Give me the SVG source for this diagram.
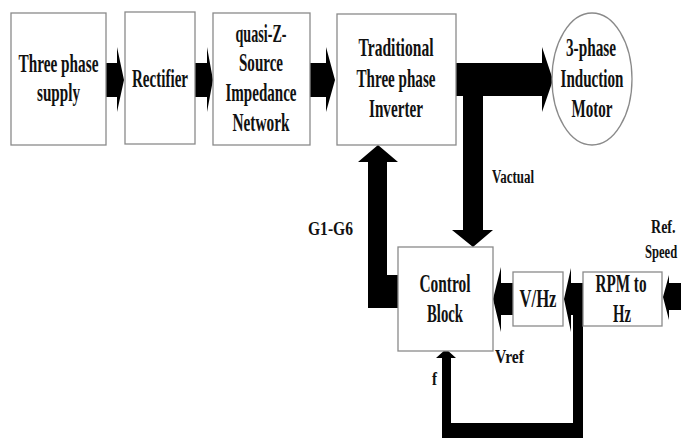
<svg xmlns="http://www.w3.org/2000/svg" width="681" height="438" viewBox="0 0 681 438">
<style>
.box{fill:#fff;stroke:#8a8a8a;stroke-width:1.3}
.t{font-family:"Liberation Serif","Times New Roman",serif;font-weight:bold;font-size:25px;fill:#111;text-anchor:middle}
.l{font-family:"Liberation Serif","Times New Roman",serif;font-weight:bold;font-size:18px;fill:#111}
.a{fill:#000}
</style>
<rect width="681" height="438" fill="#fff"/>
<g id="connectors">
<polygon class="a" points="106,63 117,63 117,47 124,80 117,112 117,97 106,97"/>
<polygon class="a" points="195,63 207,63 207,47 213,80 207,112 207,97 195,97"/>
<polygon class="a" points="310,63 326,63 326,47 335,80 326,112 326,97 310,97"/>
<polygon class="a" points="456,63 542,63 542,47 553,80 542,112 542,96 483,96 483,230 493,230 473,247 452,230 463,230 463,96 456,96"/>
<polygon class="a" points="398,275 387,275 387,162 398,162 378,145 358,162 368,162 368,308 398,308"/>
<polygon class="a" points="513,283 501,283 501,267 493,299 501,332 501,315 513,315"/>
<polygon class="a" points="582,283 571,283 571,268 564,299 571,332 571,315 573,315 573,423 451,423 451,358 456,358 446,349 436,358 442,358 442,438 583,438 583,283"/>
<polygon class="a" points="681,283 669,283 669,275 663,297 669,320 669,310 681,310"/>
</g>
<g id="supply"><rect class="box" x="11" y="13" width="95" height="132"/>
<text class="t" x="58.5" y="72" textLength="80" lengthAdjust="spacingAndGlyphs">Three phase</text>
<text class="t" x="58.5" y="101" textLength="43" lengthAdjust="spacingAndGlyphs">supply</text></g>
<g id="rectifier"><rect class="box" x="125" y="12" width="70" height="132"/>
<text class="t" x="160" y="87" textLength="56" lengthAdjust="spacingAndGlyphs">Rectifier</text></g>
<g id="qzsource"><rect class="box" x="213" y="13" width="97" height="132"/>
<text class="t" x="261" y="42" textLength="51" lengthAdjust="spacingAndGlyphs">quasi-Z-</text>
<text class="t" x="261" y="71" textLength="44" lengthAdjust="spacingAndGlyphs">Source</text>
<text class="t" x="261" y="101" textLength="71" lengthAdjust="spacingAndGlyphs">Impedance</text>
<text class="t" x="261" y="131" textLength="57" lengthAdjust="spacingAndGlyphs">Network</text></g>
<g id="inverter"><rect class="box" x="337" y="14" width="119" height="131"/>
<text class="t" x="396" y="56" textLength="75" lengthAdjust="spacingAndGlyphs">Traditional</text>
<text class="t" x="396" y="87" textLength="79" lengthAdjust="spacingAndGlyphs">Three phase</text>
<text class="t" x="396" y="117" textLength="54" lengthAdjust="spacingAndGlyphs">Inverter</text></g>
<g id="motor"><ellipse class="box" cx="592" cy="79" rx="40" ry="66"/>
<text class="t" x="591" y="56" textLength="50" lengthAdjust="spacingAndGlyphs">3-phase</text>
<text class="t" x="592" y="87" textLength="63" lengthAdjust="spacingAndGlyphs">Induction</text>
<text class="t" x="592" y="117" textLength="41" lengthAdjust="spacingAndGlyphs">Motor</text></g>
<g id="control"><rect class="box" x="398" y="247" width="95" height="104"/>
<text class="t" x="445" y="292" textLength="51" lengthAdjust="spacingAndGlyphs">Control</text>
<text class="t" x="445" y="322" textLength="36" lengthAdjust="spacingAndGlyphs">Block</text></g>
<g id="vhz"><rect class="box" x="513" y="272" width="50" height="54"/>
<text class="t" x="538" y="307" textLength="37" lengthAdjust="spacingAndGlyphs">V/Hz</text></g>
<g id="rpm"><rect class="box" x="583" y="272" width="79" height="54"/>
<text class="t" x="621" y="292" textLength="51" lengthAdjust="spacingAndGlyphs">RPM to</text>
<text class="t" x="622" y="322" textLength="18" lengthAdjust="spacingAndGlyphs">Hz</text></g>
<g id="labels">
<text class="l" x="492" y="183" textLength="42" lengthAdjust="spacingAndGlyphs">Vactual</text>
<text class="l" x="308" y="235" textLength="45" lengthAdjust="spacingAndGlyphs">G1-G6</text>
<text class="l" transform="translate(651,233) scale(0.78,1)" x="0" y="0">Ref.</text>
<text class="l" transform="translate(645,258) scale(0.7,1)" x="0" y="0">Speed</text>
<text class="l" x="495" y="363" textLength="29" lengthAdjust="spacingAndGlyphs">Vref</text>
<text class="l" x="432" y="385" textLength="5" lengthAdjust="spacingAndGlyphs">f</text>
</g>
</svg>
